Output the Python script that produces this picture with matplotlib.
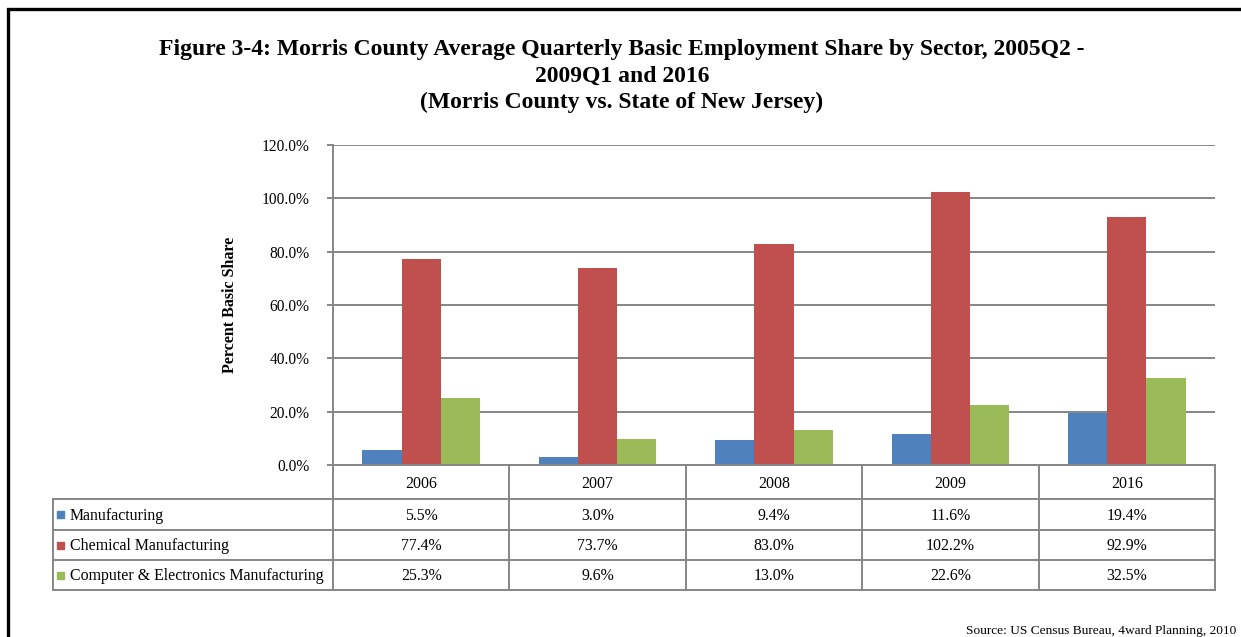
import matplotlib
matplotlib.use('Agg')
import matplotlib.pyplot as plt
import numpy as np

plt.rcParams['font.family'] = ['Liberation Serif', 'DejaVu Serif']

years = ['2006', '2007', '2008', '2009', '2016']
series = ['Manufacturing', 'Chemical Manufacturing', 'Computer & Electronics Manufacturing']
manufacturing = [5.5, 3.0, 9.4, 11.6, 19.4]
chemical = [77.4, 73.7, 83.0, 102.2, 92.9]
computer = [25.3, 9.6, 13.0, 22.6, 32.5]
colors = ['#4F81BD', '#C0504D', '#9BBB59']
values = [manufacturing, chemical, computer]

W, H = 1241, 637
grid_c = '#868686'
fs = 11.4
fig = plt.figure(figsize=(W / 100, H / 100), dpi=100)

# outer frame (only top and left visible)
fig.patches.append(plt.Rectangle((8 / W, -0.05), 1.2, 1 - 9 / H + 0.05, transform=fig.transFigure,
                                 fill=False, edgecolor='black', linewidth=2.4))

fig.text(622 / W, 1 - 50 / H, 'Figure 3-4: Morris County Average Quarterly Basic Employment Share by Sector, 2005Q2 -',
         ha='center', va='center', fontsize=17, fontweight='bold')
fig.text(622 / W, 1 - 76 / H, '2009Q1 and 2016', ha='center', va='center', fontsize=17, fontweight='bold')
fig.text(622 / W, 1 - 102 / H, '(Morris County vs. State of New Jersey)', ha='center', va='center',
         fontsize=17, fontweight='bold')

# chart area
x0, x1, y0, y1 = 333, 1215, 145, 465
ax = fig.add_axes([x0 / W, 1 - y1 / H, (x1 - x0) / W, (y1 - y0) / H])
x = np.arange(len(years))
w = 0.2222
for k in range(3):
    ax.bar(x + (k - 1) * w, values[k], w, color=colors[k], zorder=3)
ax.set_xlim(-0.5, len(years) - 0.5)
ax.set_ylim(0, 120)
ax.set_yticks(np.arange(0, 121, 20))
ax.set_yticklabels(['%.1f%%' % v for v in np.arange(0, 121, 20)], fontsize=11.2)
ax.yaxis.grid(True, color=grid_c, linewidth=1.4, zorder=0)
ax.set_xticks([])
ax.tick_params(axis='y', length=4, width=1.4, color=grid_c, pad=13)
for s in ['top', 'right', 'bottom']:
    ax.spines[s].set_visible(False)
ax.spines['left'].set_color(grid_c)
ax.spines['left'].set_linewidth(1.4)
ax.set_ylabel('Percent Basic Share', fontsize=11.5, fontweight='bold', labelpad=17)

# data table below
t0, t1 = 53, 1215
tb = fig.add_axes([t0 / W, 1 - 590 / H, (t1 - t0) / W, 125 / H])
tb.set_xlim(t0, t1)
tb.set_ylim(590, 465)
tb.axis('off')
col_edges = np.linspace(x0, x1, len(years) + 1)
row_edges = [465, 499, 530, 560, 590]
lw = 1.4
for r in row_edges[1:]:
    tb.plot([t0, t1], [r, r], color=grid_c, lw=lw, clip_on=False)
tb.plot([x0, t1], [465, 465], color=grid_c, lw=lw, clip_on=False)
tb.plot([t0, t0], [499, 590], color=grid_c, lw=lw, clip_on=False)
for c in col_edges:
    tb.plot([c, c], [465, 590], color=grid_c, lw=lw, clip_on=False)
for i, yr in enumerate(years):
    cx = (col_edges[i] + col_edges[i + 1]) / 2
    tb.text(cx, 483.5, yr, ha='center', va='center', fontsize=fs)
    for k in range(3):
        cy = (row_edges[k + 1] + row_edges[k + 2]) / 2 + 1.5
        tb.text(cx, cy, '%.1f%%' % values[k][i], ha='center', va='center', fontsize=fs)
for k in range(3):
    cy = (row_edges[k + 1] + row_edges[k + 2]) / 2
    tb.add_patch(plt.Rectangle((57, cy - 3.5), 7, 7, color=colors[k], clip_on=False))
    tb.text(70, cy + 1.5, series[k], ha='left', va='center', fontsize=fs)

fig.text(1236 / W, 1 - 631 / H, 'Source: US Census Bureau, 4ward Planning, 2010', ha='right', va='center',
         fontsize=9.6)

fig.savefig('out.png', dpi=100)
